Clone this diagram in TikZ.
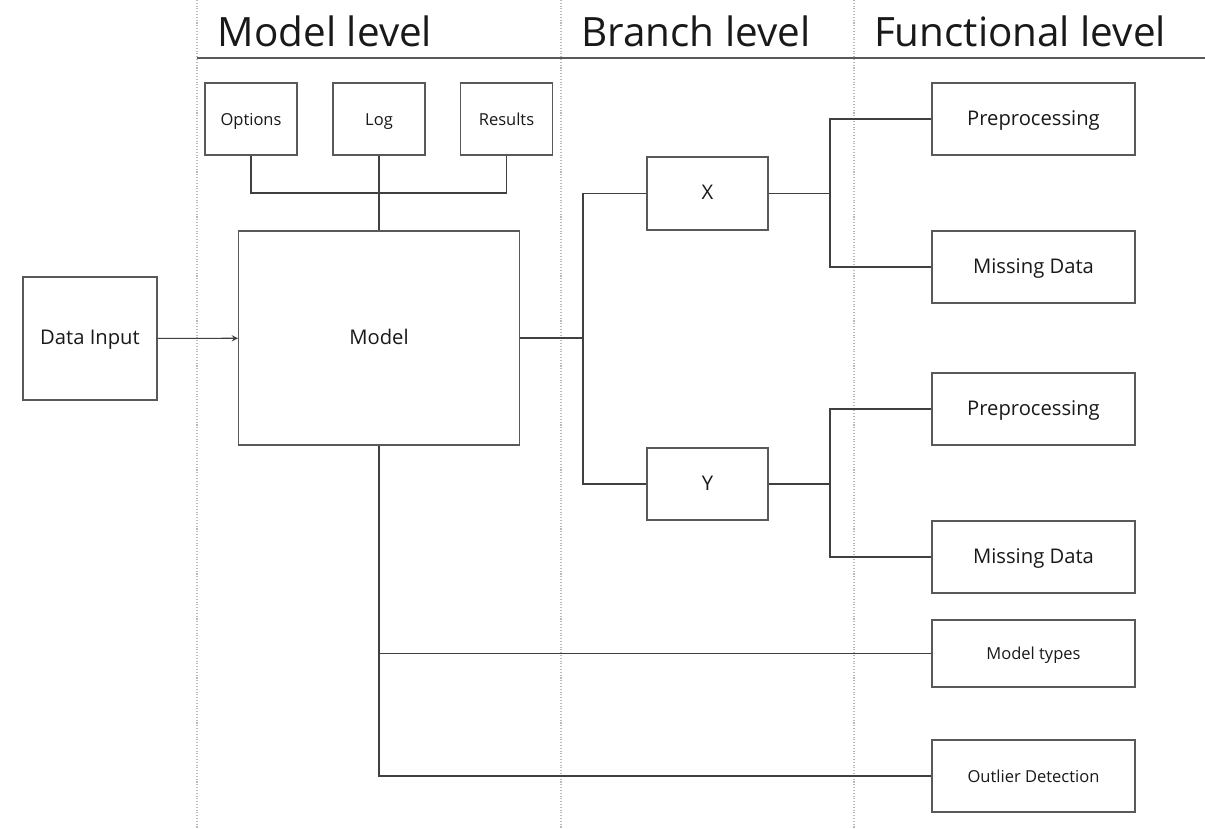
\documentclass[tikz,border=0pt]{standalone}
\usepackage{fontspec}
\setmainfont{Open Sans}
\usepackage{tikz}
\usetikzlibrary{positioning,shapes,arrows}

\begin{document}
\begin{tikzpicture}[x=0.02cm,y=-0.02cm]
          %% MODEL OVERVIEW

          \tikzstyle{every node}=[inner sep=0pt]
          \tikzstyle{box}=[draw=black!65,line width=0.6pt,fill=white,text=black!90,
            text height=0.72em,text depth=0pt]
          \tikzstyle{bigbox}=[box,font=\fontsize{11.5}{13}\selectfont]
          \tikzstyle{smallbox}=[box,font=\fontsize{9.4}{11}\selectfont]
          \tikzstyle{wire}=[draw=black!75,line width=0.6pt]
          \tikzstyle{title}=[font=\fontsize{23}{27}\selectfont,text=black!90]

          \useasboundingbox (0,0) rectangle (1205,829);

          % columns
          \foreach \x in {197,561,854} {
            \draw[gray!55,densely dotted,line width=0.6pt] (\x,0) -- (\x,829);
          }
          \draw[black!65,line width=0.6pt] (197,58) -- (1205,58);
          \node[title] (Tmodel) at (325,31) {Model level};
          \node[title] (Tbranch) at (696,31) {Branch level};
          \node[title] (Tfunc) at (1020,31) {Functional level};

          % model level
          \node[bigbox,minimum width=2.68cm,minimum height=2.46cm] (Input) at (90,338.5) {Data Input};
          \node[bigbox,minimum width=5.62cm,minimum height=4.28cm] (Model) at (379,338) {Model};
          \node[smallbox,minimum width=1.84cm,minimum height=1.44cm] (Options) at (251,119) {Options};
          \node[smallbox,minimum width=1.84cm,minimum height=1.44cm] (Log) at (379,119) {Log};
          \node[smallbox,minimum width=1.84cm,minimum height=1.44cm] (Results) at (506.5,119) {Results};

          % branch level
          \node[bigbox,minimum width=2.42cm,minimum height=1.46cm] (X) at (707.5,193.5) {X};
          \node[bigbox,minimum width=2.42cm,minimum height=1.44cm] (Y) at (707.5,484) {Y};

          % functional level
          \foreach \name/\y/\text in {PreX/119/Preprocessing, MissX/267/Missing Data,
            PreY/409/Preprocessing, MissY/557/Missing Data} {
            \node[bigbox,minimum width=4.06cm,minimum height=1.44cm] (\name) at (1033.5,\y) {\text};
          }
          \node[smallbox,minimum width=4.06cm,minimum height=1.34cm] (Types) at (1033.5,653.5) {Model types};
          \node[smallbox,minimum width=4.06cm,minimum height=1.44cm] (Outlier) at (1033.5,776) {Outlier Detection};

          % connections
          \coordinate (top) at (379,193);
          \draw[wire] (Options.south) |- (top) -| (Results.south);
          \draw[wire] (Log) -- (Model);
          \draw[wire,->,>=stealth] (Input) -- (Model);

          \coordinate (split) at (583,338);
          \draw[wire] (Model) -- (split);
          \draw[wire] (X.west) -| (split) |- (Y.west);

          \coordinate (xs) at (830,193.5);
          \coordinate (ys) at (830,484);
          \draw[wire] (X) -- (xs);
          \draw[wire] (PreX.west) -| (xs) |- (MissX.west);
          \draw[wire] (Y) -- (ys);
          \draw[wire] (PreY.west) -| (ys) |- (MissY.west);

          \draw[wire] (Model.south) |- (Outlier.west);
          \draw[wire] (Model.south |- Types.west) -- (Types.west);
        \end{tikzpicture}
\end{document}
